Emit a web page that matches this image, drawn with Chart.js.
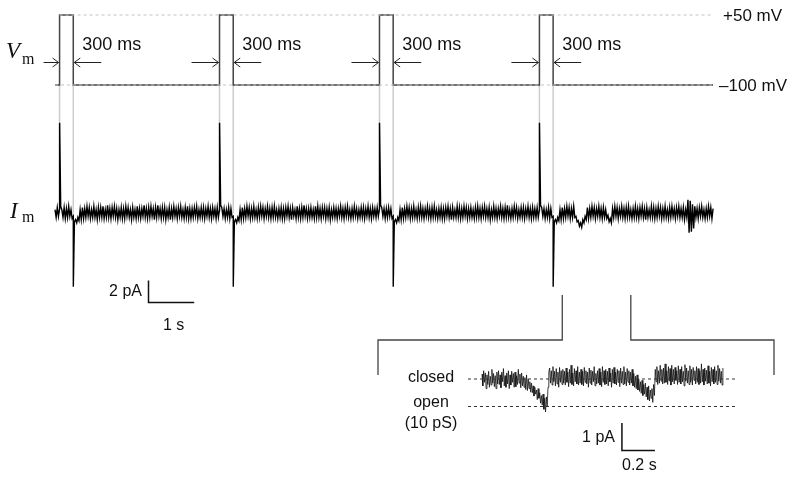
<!DOCTYPE html>
<html>
<head>
<meta charset="utf-8">
<script src="https://cdn.jsdelivr.net/npm/chart.js@4.4.1/dist/chart.umd.min.js"></script>
<style>
  body { margin: 0; background: #fff; }
  #wrap { position: relative; width: 796px; height: 479px; }
  #wrap canvas { position: absolute; left: 0; top: 0; }
  .lbl { position: absolute; font-family: "Liberation Sans", Arial, sans-serif; line-height: 1; color: #111; white-space: nowrap; }
  .ser { font-family: "Liberation Serif", "Times New Roman", serif; }
</style>
</head>
<body>
<div id="wrap"><canvas id="chart" width="796" height="479"></canvas></div>
<script>
// Voltage protocol
const pulseStarts = [0.1, 3.6, 7.1, 10.6]; // s, step to +50 mV
const pulseWidth = 0.3;                     // s
const vHold = -100;                         // mV
const vStep = 50;                           // mV
const traceEnd = 14.4;                      // s

// Membrane current, one sample every 0.025 s, in tenths of pA (one row per second)
const sampleStep = 0.025;
const imNoise = [
  3,-4,5,-3,4,6,3,-4,5,-5, 4,-4,6,-3,3,-5,-3,-8,-6,-9, -4,-7,3,-6,5,-5,4,-4,6,-3, 5,-5,3,-4,6,-4,3,-6,5,-4,
  5,-4,6,-5,3,-4,7,-4,4,-5, 5,-3,6,-4,4,-6,3,-4,5,-5, 4,-5,6,-3,5,-4,3,-6,5,-4, 3,-5,6,-4,4,-5,4,-3,7,-4,
  4,-5,5,-4,6,-3,4,-6,5,-4, 7,-3,4,-5,5,-4,5,-6,3,-4, 5,-6,4,-4,6,-3,4,-5,5,-3, 6,-4,3,-5,5,-4,6,-5,4,-5,
  4,-4,5,-3,6,-5,3,-4,5,-4, 5,-5,4,-3,6,-4,4,-5,5,-3, 4,-5,5,-4,3,7,5,-3,4,-5, 3,-4,5,-5,4,-4,-3,-8,-6,-9,
  -4,-7,3,-6,5,-5,4,-4,6,-3, 5,-5,4,-4,6,-4,3,-5,5,-4, 6,-3,5,-5,4,-3,6,-4,4,-5, 5,-4,6,-4,3,-5,4,-4,5,-5,
  4,-5,5,-3,6,-4,4,-6,5,-3, 3,-5,6,-4,4,-5,5,-4,7,-3, 4,-5,4,-4,5,-4,3,-5,6,-4, 6,-4,4,-5,5,-3,5,-5,4,-4,
  5,-6,3,-4,5,-4,4,-5,4,-3, 6,-4,4,-5,5,-3,6,-4,3,-5, 4,-4,6,-3,4,-5,3,-4,5,-4, 5,-5,4,-3,6,-4,4,-5,5,-3,
  4,-4,5,-3,4,7,5,-3,4,-5, 4,-4,5,-3,4,-5,-3,-8,-6,-9, -4,-7,3,-6,5,-5,4,-4,6,-3, 5,-5,4,-4,6,-4,3,-5,5,-4,
  6,-4,4,-5,4,-3,6,-4,4,-5, 5,-4,6,-4,3,-5,4,-4,5,-5, 4,-5,5,-3,6,-4,4,-6,5,-4, 3,-4,6,-4,5,-5,4,-4,6,-3,
  5,-5,4,-4,5,-4,3,-5,5,-4, 6,-4,4,-5,5,-3,6,-4,4,-4, 5,-6,3,-4,6,-4,4,-5,4,-3, 6,-4,4,-5,5,-4,7,-4,3,-5,
  4,-4,6,-3,5,-5,3,-4,5,-4, 5,-5,4,-3,6,-4,4,-5,5,-4, 4,-4,5,-4,3,7,5,-3,4,-5, 3,-4,5,-5,4,-4,-3,-8,-6,-9,
  -4,-7,3,-6,5,-5,4,-4,6,-3, 5,-5,4,-4,6,-4,-3,-8,-7,-12, -9,-13,-6,-9,-3,-6,5,-5,4,-4, 6,-3,5,-5,4,-3,6,-4,4,-5,
  5,-4,3,-5,-2,-8,-5,-9,4,-4, 6,-3,5,-5,4,-3,6,-4,4,-5, 5,-4,6,-4,3,-5,4,-4,6,-4, 4,-5,5,-3,6,-4,4,-6,5,-4,
  3,-4,6,-4,5,-5,4,-4,6,-3, 5,-5,4,-4,6,-4,3,-5,5,-4, 6,-3,4,-5,5,-3,6,-4,4,-4, 5,-6,3,-4,12,-18,11,-17,8,-14,
  6,-4,4,-5,5,-3,6,-4,3,-5,4,-4,6,-3,5,-5,4
];
const onsetPeak = [8.2, 8.2, 8.2, 8.2];     // pA, capacitive transient at step on
const offsetPeak = [-6.7, -6.7, -6.7, -6.7]; // pA, at step off

// Stretch of the trace shown expanded
const zoomWindow = [11.1, 12.6]; // s

// Expanded trace, one sample every 0.005 s, in hundredths of pA (one row per 0.1 s)
const insetStep = 0.005;
const insetNoise = [
  18,-25,30,-12,22,-35,15,-20,28,-30,10,-22,35,-15,20,-28,12,-35,25,-18,
  30,-20,15,-32,25,-10,38,-25,12,-30,22,-18,30,-35,15,-22,28,-12,20,-30,
  25,-28,12,-20,35,-15,18,-32,22,-25,10,-30,5,-38,15,-42,0,-35,-10,-48,
  -15,-50,-25,-62,-30,-55,-40,-75,-35,-70,-50,-88,-60,-95,-55,-110,-70,-120,-65,-100,
  -30,25,40,-15,30,-22,45,-10,28,-25,38,-18,25,-30,42,-12,30,-20,35,-15,
  28,-22,40,-12,25,-28,35,-15,50,-20,22,-25,38,-10,30,-18,45,-22,25,-15,
  35,-20,28,-25,42,-12,30,-18,25,-30,40,-15,32,-22,28,-10,45,-25,20,-18,
  30,-15,38,-22,25,-28,45,-12,30,-20,35,-18,28,-25,40,-10,22,-30,35,-15,
  42,-18,25,-22,35,-12,30,-28,40,-15,28,-20,45,-18,25,-25,38,-12,30,-22,
  25,-15,35,-25,20,-30,10,-35,15,-40,0,-45,-10,-52,-5,-60,-20,-55,-15,-65,
  -30,-75,-25,-80,-40,-70,-35,-85,-20,-60,35,-10,45,-20,30,-15,50,-8,35,-18,
  40,-15,55,-12,30,-20,45,-8,38,-22,50,-10,35,-18,42,-5,30,-20,48,-12,
  35,-18,45,-10,28,-25,52,-8,40,-15,30,-20,48,-12,35,-22,42,-5,30,-18,
  45,-12,38,-20,30,-15,55,-10,35,-22,40,-8,32,-18,48,-15,28,-25,42,-10,
  35,-18,45,-12,30,-20,50,-8,38,-15,28,-22,40
];
const closedLevel = 0;  // pA
const openLevel = -1;   // pA (10 pS at -100 mV)

// scale bars
const mainBar = { t: 1, i: 2 };     // s, pA
const insetBar = { t: 0.2, i: 1 };  // s, pA

// layout of the figure in pixels
const W = 796, H = 479;
const X0 = 55, PX_S = 45.7;           // main time axis
const VM_Y = 85, PX_MV = 70 / 150;    // pixel of -100 mV
const IM_Y = 213, PX_PA = 11;         // pixel of 0 pA
const IN_X0 = 482, IN_PX_S = 165;     // expanded time axis
const IN_Y = 379, IN_PX_PA = 27.5;    // pixel of closed level

// build series
const vmPoints = [{ x: 0, y: vHold }];
pulseStarts.forEach(t => {
    vmPoints.push({ x: t, y: vHold }, { x: t, y: vStep }, { x: t + pulseWidth, y: vStep }, { x: t + pulseWidth, y: vHold });
});
vmPoints.push({ x: traceEnd, y: vHold });

const imPoints = imNoise.map((v, i) => ({ x: +(i * sampleStep).toFixed(4), y: v / 10 }));
pulseStarts.forEach((t, i) => {
    imPoints.push({ x: t + 0.001, y: onsetPeak[i] });
    imPoints.push({ x: t + pulseWidth + 0.001, y: offsetPeak[i] });
});
imPoints.sort((a, b) => a.x - b.x);

const insetPoints = insetNoise.map((v, i) => ({ x: +(i * insetStep).toFixed(4), y: v / 100 }));
const insetSpan = (insetNoise.length - 1) * insetStep;

const barCorner = { x: 2.046, y: -8.14 };
const inBarCorner = { x: 0.848, y: -2.6 };

function line(data, opts) {
    return Object.assign({ data, showLine: true, pointRadius: 0, borderColor: '#000', borderWidth: 1.5, fill: false, tension: 0 }, opts);
}

const datasets = [
    line([{ x: pulseStarts[0], y: vStep }, { x: traceEnd, y: vStep }], { yAxisID: 'yV', borderColor: '#c4c4c4', borderWidth: 1, borderDash: [3, 3] }),
    line([{ x: 0, y: vHold }, { x: traceEnd, y: vHold }], { yAxisID: 'yV', borderColor: '#c4c4c4', borderWidth: 1, borderDash: [3, 3] }),
    line(vmPoints, { yAxisID: 'yV', borderColor: '#444', borderWidth: 1.5 }),
    line(imPoints, { yAxisID: 'yI', borderColor: '#000', borderWidth: 1.4 }),
    line([{ x: barCorner.x, y: barCorner.y + mainBar.i }, barCorner, { x: barCorner.x + mainBar.t, y: barCorner.y }],
         { yAxisID: 'yI', borderColor: '#111', borderWidth: 1.5 }),
    line([{ x: -0.085, y: closedLevel }, { x: insetSpan + 0.09, y: closedLevel }], { xAxisID: 'xIn', yAxisID: 'yIn', borderColor: '#333', borderWidth: 1, borderDash: [3, 3] }),
    line([{ x: -0.085, y: openLevel }, { x: insetSpan + 0.09, y: openLevel }], { xAxisID: 'xIn', yAxisID: 'yIn', borderColor: '#333', borderWidth: 1, borderDash: [3, 3] }),
    line(insetPoints, { xAxisID: 'xIn', yAxisID: 'yIn', borderColor: '#111', borderWidth: 0.8 }),
    line([{ x: inBarCorner.x, y: inBarCorner.y + insetBar.i }, inBarCorner, { x: inBarCorner.x + insetBar.t, y: inBarCorner.y }],
         { xAxisID: 'xIn', yAxisID: 'yIn', borderColor: '#111', borderWidth: 1.5 })
];

// guide lines, arrows and the zoom bracket
const decor = {
    id: 'decor',
    beforeDatasetsDraw(chart) {
        const { ctx, scales: { x, yV, yI } } = chart;
        ctx.save();
        ctx.strokeStyle = '#cdcdcd';
        ctx.lineWidth = 1.5;
        pulseStarts.forEach(t => {
            [t, t + pulseWidth].forEach(e => {
                const px = x.getPixelForValue(e);
                ctx.beginPath();
                ctx.moveTo(px, yV.getPixelForValue(vHold));
                ctx.lineTo(px, yI.getPixelForValue(0));
                ctx.stroke();
            });
        });
        ctx.restore();
    },
    afterDatasetsDraw(chart) {
        const { ctx, scales: { x, yV } } = chart;
        const ay = Math.round(yV.getPixelForValue(vHold)) - 22.5;
        ctx.save();
        ctx.strokeStyle = '#222';
        ctx.lineWidth = 1;
        const arrow = (from, to) => {
            const d = Math.sign(to - from);
            ctx.beginPath();
            ctx.moveTo(from, ay); ctx.lineTo(to, ay);
            ctx.moveTo(to - 6 * d, ay - 4.5); ctx.lineTo(to, ay); ctx.lineTo(to - 6 * d, ay + 4.5);
            ctx.stroke();
        };
        pulseStarts.forEach((t, i) => {
            const on = x.getPixelForValue(t), off = x.getPixelForValue(t + pulseWidth);
            arrow(on - (i === 0 ? 16 : 28), on - 1);
            arrow(off + 28, off + 1);
        });
        // bracket
        const l = x.getPixelForValue(zoomWindow[0]), r = x.getPixelForValue(zoomWindow[1]);
        ctx.strokeStyle = '#444';
        ctx.lineWidth = 1.3;
        ctx.beginPath();
        ctx.moveTo(l, 295); ctx.lineTo(l, 340); ctx.lineTo(378, 340); ctx.lineTo(378, 375);
        ctx.moveTo(r, 295); ctx.lineTo(r, 340); ctx.lineTo(774, 340); ctx.lineTo(774, 375);
        ctx.stroke();
        ctx.restore();
    }
};

const chart = new Chart(document.getElementById('chart'), {
    type: 'scatter',
    data: { datasets },
    options: {
        responsive: false,
        animation: false,
        layout: { padding: 0 },
        plugins: { legend: { display: false }, tooltip: { enabled: false } },
        scales: {
            x: { type: 'linear', display: false, min: -X0 / PX_S, max: (W - X0) / PX_S },
            y: { type: 'linear', display: false },
            yV: { type: 'linear', axis: 'y', display: false, min: vHold - (H - VM_Y) / PX_MV, max: vHold + VM_Y / PX_MV },
            yI: { type: 'linear', axis: 'y', display: false, min: -(H - IM_Y) / PX_PA, max: IM_Y / PX_PA },
            xIn: { type: 'linear', axis: 'x', display: false, min: -IN_X0 / IN_PX_S, max: (W - IN_X0) / IN_PX_S },
            yIn: { type: 'linear', axis: 'y', display: false, min: -(H - IN_Y) / IN_PX_PA, max: IN_Y / IN_PX_PA }
        }
    },
    plugins: [decor]
});

// text labels
const wrap = document.getElementById('wrap');
function label(text, x, baseline, size, opts = {}) {
    const d = document.createElement('div');
    d.className = 'lbl' + (opts.serif ? ' ser' : '');
    d.textContent = text;
    d.style.fontSize = size + 'px';
    d.style.left = x + 'px';
    d.style.top = (baseline - 0.845 * size) + 'px';
    if (opts.italic) d.style.fontStyle = 'italic';
    if (opts.align === 'right') d.style.transform = 'translateX(-100%)';
    if (opts.align === 'center') d.style.transform = 'translateX(-50%)';
    wrap.appendChild(d);
}

label('V', 6, 58, 23, { serif: true, italic: true });
label('m', 22, 65, 16, { serif: true });
label('I', 10, 218, 23, { serif: true, italic: true });
label('m', 22, 223, 16, { serif: true });

pulseStarts.forEach(t => {
    label('300 ms', chart.scales.x.getPixelForValue(t + pulseWidth) + 9, 50, 18);
});
label('+50 mV', 723, 21, 17);
label('\u2013100 mV', 719, 91, 17);

label('2 pA', 142, 297, 16, { align: 'right' });
label('1 s', 163, 331, 16);

label('closed', 431, 383, 16, { align: 'center' });
label('open', 431, 408, 16, { align: 'center' });
label('(10 pS)', 431, 429, 16, { align: 'center' });
label('1 pA', 615, 443, 16, { align: 'right' });
label('0.2 s', 622, 471, 16);
</script>
</body>
</html>
